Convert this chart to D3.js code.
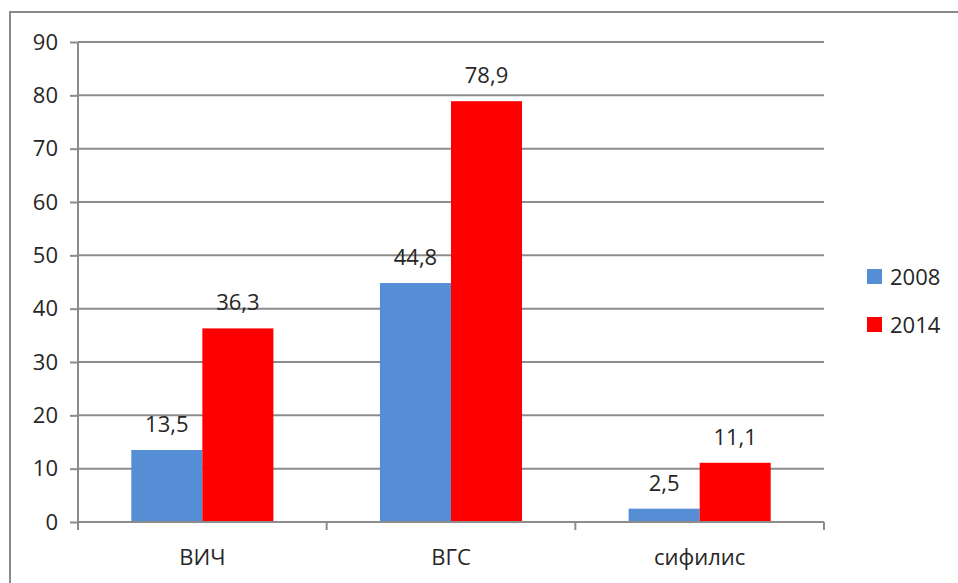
<!DOCTYPE html>
<html>
<head>
<meta charset="utf-8">
<script src="https://cdn.jsdelivr.net/npm/d3@7"></script>
<style>
  html, body { margin: 0; padding: 0; background: #fff; }
  svg { display: block; }
  text { font-family: "Open Sans", "Noto Sans", sans-serif; fill: #262626; }
</style>
</head>
<body>
<svg id="chart" width="958" height="583"></svg>
<script>
// Infection rates by disease, 2008 vs 2014
const categories = ["ВИЧ", "ВГС", "сифилис"];
const seriesNames = ["2008", "2014"];
const values2008 = [13.5, 44.8, 2.5];
const values2014 = [36.3, 78.9, 11.1];
const yTicks = [0, 10, 20, 30, 40, 50, 60, 70, 80, 90];
const colors = ["#558ed5", "#ff0000"];

const series = [values2008, values2014];
const svg = d3.select("#chart");
const W = 958, H = 583;
const fontSize = "22px";

// Outer frame (continues past the right and bottom edges)
svg.append("rect")
  .attr("x", 10).attr("y", 12)
  .attr("width", W + 10).attr("height", H + 10)
  .attr("fill", "none").attr("stroke", "#8a8a8a").attr("stroke-width", 2);

const plot = { left: 78, right: 824, top: 42, bottom: 522 };

const x = d3.scaleBand().domain(categories).range([plot.left, plot.right]);
const inner = d3.scaleBand().domain(seriesNames)
  .range([0, x.bandwidth()]).paddingInner(0).paddingOuter(0.75);
const y = d3.scaleLinear().domain([0, 90]).range([plot.bottom, plot.top]);

const gridColor = "#8c8c8c";

// Horizontal gridlines
svg.append("g").selectAll("line").data(yTicks.filter(d => d > 0)).join("line")
  .attr("x1", plot.left).attr("x2", plot.right)
  .attr("y1", d => y(d)).attr("y2", d => y(d))
  .attr("stroke", gridColor).attr("stroke-width", 2);

// Bars
const groups = svg.append("g").selectAll("g").data(categories).join("g")
  .attr("transform", d => `translate(${x(d)},0)`);

groups.selectAll("rect")
  .data((c, i) => seriesNames.map((s, k) => ({ s, v: series[k][i], k })))
  .join("rect")
  .attr("x", d => inner(d.s))
  .attr("width", inner.bandwidth())
  .attr("y", d => y(d.v))
  .attr("height", d => y(0) - y(d.v))
  .attr("fill", d => colors[d.k]);

// Value labels
groups.selectAll("text.val")
  .data((c, i) => seriesNames.map((s, k) => ({ s, v: series[k][i], k })))
  .join("text")
  .attr("class", "val")
  .attr("x", d => inner(d.s) + inner.bandwidth() / 2)
  .attr("y", d => y(d.v) - 18)
  .attr("text-anchor", "middle")
  .style("font-size", fontSize)
  .text(d => d3.format(".1f")(d.v).replace(".", ","));

// Y axis
const yAxis = d3.axisLeft(y).tickValues(yTicks).tickSize(8).tickPadding(12);
const yg = svg.append("g").attr("transform", `translate(${plot.left},0)`).call(yAxis);
yg.select(".domain").remove();
yg.selectAll(".tick line").attr("stroke", gridColor).attr("stroke-width", 2);
yg.selectAll(".tick text").style("font-size", fontSize).attr("fill", "#262626")
  .style("font-family", "'Open Sans', sans-serif");
svg.append("line")
  .attr("x1", plot.left).attr("x2", plot.left)
  .attr("y1", plot.top).attr("y2", plot.bottom + 8)
  .attr("stroke", gridColor).attr("stroke-width", 2);

// X axis
svg.append("line")
  .attr("x1", plot.left).attr("x2", plot.right)
  .attr("y1", plot.bottom).attr("y2", plot.bottom)
  .attr("stroke", gridColor).attr("stroke-width", 2);
const bounds = categories.map(c => x(c)).concat([x(categories[categories.length - 1]) + x.bandwidth()]);
svg.append("g").selectAll("line").data(bounds.slice(1)).join("line")
  .attr("x1", d => d).attr("x2", d => d)
  .attr("y1", plot.bottom).attr("y2", plot.bottom + 8)
  .attr("stroke", gridColor).attr("stroke-width", 2);
svg.append("g").selectAll("text").data(categories).join("text")
  .attr("x", d => x(d) + x.bandwidth() / 2)
  .attr("y", 565)
  .attr("text-anchor", "middle")
  .style("font-size", fontSize)
  .text(d => d);

// Legend
const legend = svg.append("g").selectAll("g").data(seriesNames).join("g")
  .attr("transform", (d, i) => `translate(867,${269 + i * 48})`);
legend.append("rect").attr("width", 15).attr("height", 15)
  .attr("fill", (d, i) => colors[i]);
legend.append("text").attr("x", 23).attr("y", 16)
  .style("font-size", fontSize).text(d => d);
</script>
</body>
</html>
